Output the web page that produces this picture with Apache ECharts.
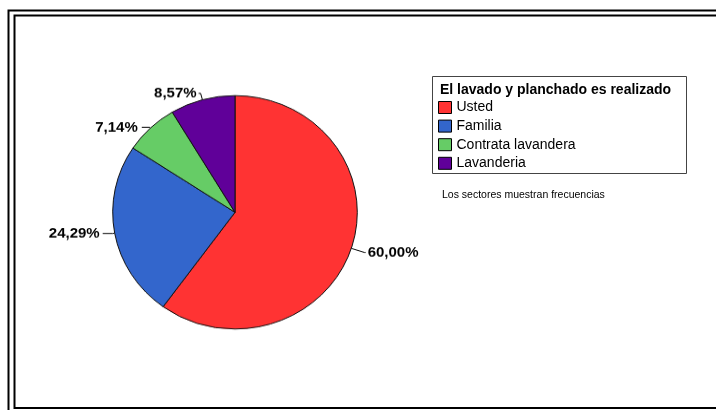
<!DOCTYPE html>
<html>
<head>
<meta charset="utf-8">
<script src="https://cdn.jsdelivr.net/npm/echarts@6/dist/echarts.min.js"></script>
<style>
  html, body { margin: 0; padding: 0; background: #fff; }
  #wrap { position: relative; width: 716px; height: 410px; overflow: hidden; }
  #base { position: absolute; left: 0; top: 0; width: 716px; height: 410px; }
  /* the pie is drawn slightly flattened, as an ellipse */
  #pie { position: absolute; left: 0; top: 0; width: 716px; height: 430px;
         transform: scaleY(0.9542); transform-origin: 0 0; }
</style>
</head>
<body>
<div id="wrap">
  <div id="base"></div>
  <div id="pie"></div>
</div>
<script>
// Frequencies: who does the washing and ironing
const categories = ['Usted', 'Familia', 'Contrata lavandera', 'Lavanderia'];
const counts = [42, 17, 5, 6];
const percentLabels = ['60,00%', '24,29%', '7,14%', '8,57%'];
const colors = ['#ff3333', '#3366cc', '#66cc66', '#600099'];
const legendTitle = 'El lavado y planchado es realizado';
const footnote = 'Los sectores muestran frecuencias';

const FONT = '"Liberation Sans", Arial, Helvetica, sans-serif';
const SQUASH = 0.9542;

// label leader-line settings for each slice: [length, length2, gap]
const leader = [[14, 1, 2], [2, 10, 3], [1, 8, 4], [7, 2, 2]];

// ---- background: frame, legend box, legend, footnote ----
const base = echarts.init(document.getElementById('base'), null, { renderer: 'canvas' });
base.setOption({
  animation: false,
  backgroundColor: '#fff',
  graphic: [
    { type: 'rect', shape: { x: 8.5, y: 10.5, width: 730, height: 430 },
      style: { fill: 'none', stroke: '#000', lineWidth: 2 } },
    { type: 'rect', shape: { x: 14.5, y: 15.5, width: 720, height: 392.5 },
      style: { fill: 'none', stroke: '#000', lineWidth: 2 } },
    { type: 'rect', shape: { x: 432.5, y: 76.5, width: 254, height: 97 },
      style: { fill: 'none', stroke: '#444', lineWidth: 1 } },
    { type: 'text', left: 440, top: 83.5,
      style: { text: legendTitle, font: 'bold 14px ' + FONT, fill: '#000' } },
    { type: 'text', left: 442, top: 190,
      style: { text: footnote, font: '10.5px ' + FONT, fill: '#000' } }
  ],
  legend: {
    orient: 'vertical',
    left: 438, top: 99.5,
    padding: 0,
    itemWidth: 13, itemHeight: 12, itemGap: 2.6,
    icon: 'rect',
    selectedMode: false,
    itemStyle: { borderColor: '#000', borderWidth: 1 },
    textStyle: { fontFamily: FONT, fontSize: 14, color: '#000', lineHeight: 16 },
    data: categories
  },
  series: [{
    type: 'pie',
    center: [-50, -50],
    radius: [0, 0],
    silent: true,
    label: { show: false },
    labelLine: { show: false },
    itemStyle: { borderWidth: 0 },
    data: categories.map((name, i) => ({ name, value: counts[i], itemStyle: { color: colors[i] } }))
  }]
});

// ---- the pie itself ----
const pie = echarts.init(document.getElementById('pie'), null, { renderer: 'canvas' });
pie.setOption({
  animation: false,
  series: [{
    type: 'pie',
    center: [235, 212.3 / SQUASH],
    radius: [0, 122.3],
    startAngle: 90,
    clockwise: true,
    avoidLabelOverlap: false,
    silent: true,
    itemStyle: { borderColor: '#111', borderWidth: 1 },
    label: {
      show: true,
      position: 'outside',
      fontFamily: FONT,
      fontSize: 15,
      fontWeight: 'bold',
      color: '#000'
    },
    labelLine: { show: true, lineStyle: { color: '#000', width: 1 } },
    data: categories.map((name, i) => ({
      name,
      value: counts[i],
      itemStyle: { color: colors[i] },
      label: { formatter: percentLabels[i], distanceToLabelLine: leader[i][2] },
      labelLine: { length: leader[i][0], length2: leader[i][1] }
    }))
  }]
});
</script>
</body>
</html>
